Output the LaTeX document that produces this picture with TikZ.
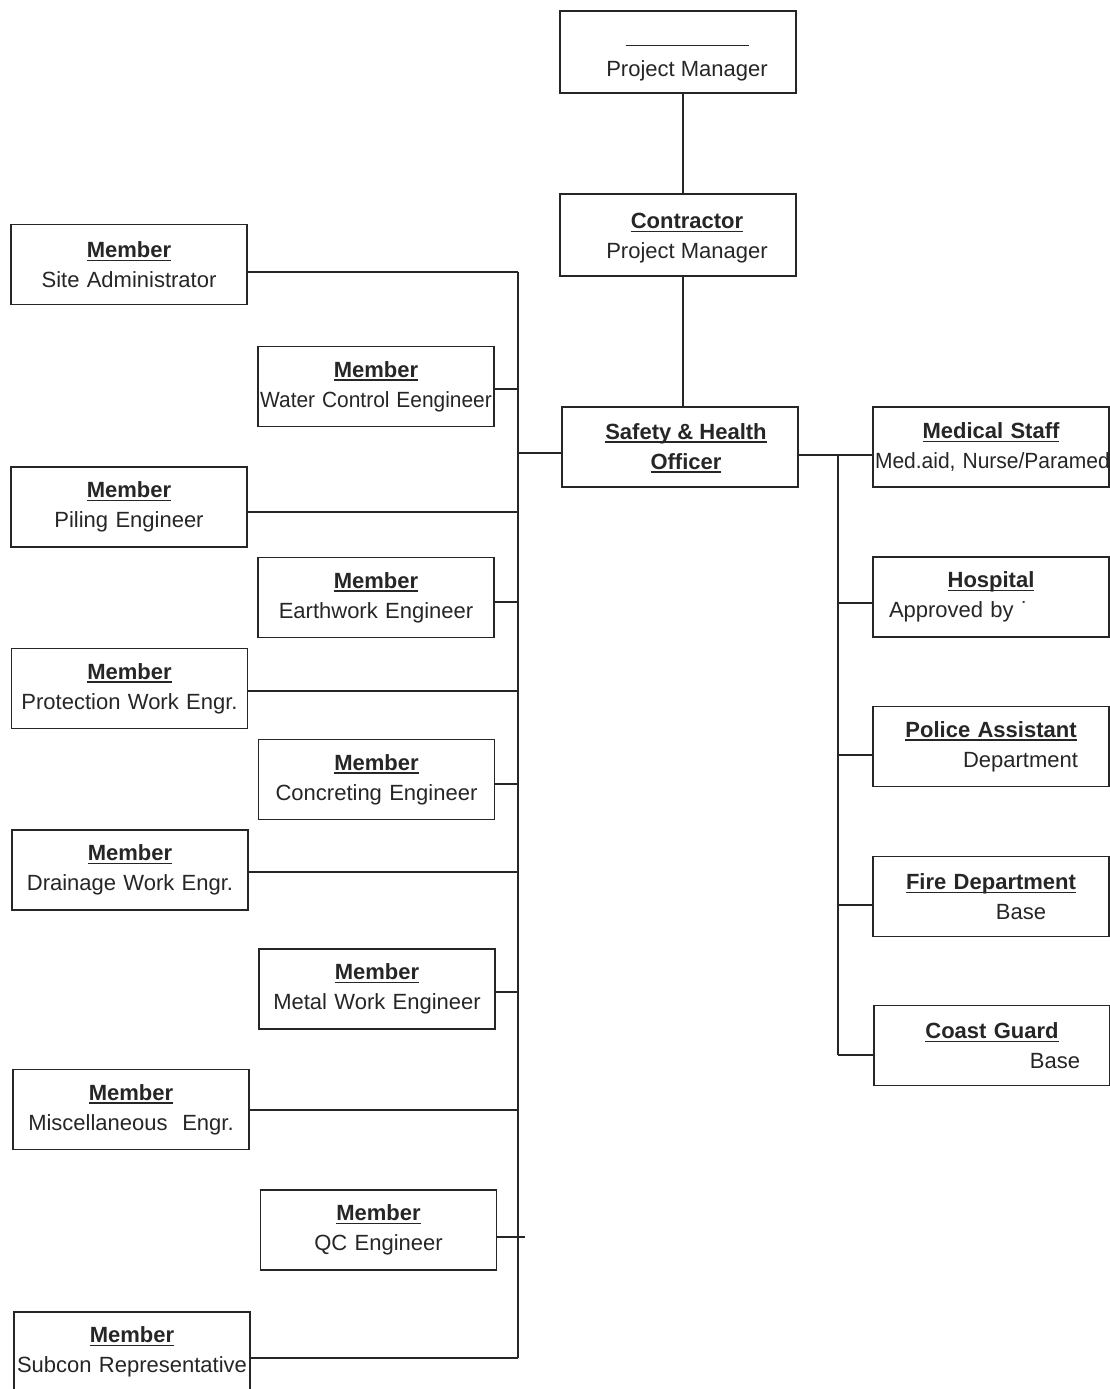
\documentclass[tikz,border=0pt]{standalone}
\usepackage{fontspec}
\setmainfont{Liberation Sans}
\usepackage{graphicx}
\newcommand\ulx[1]{\leavevmode\setbox0=\hbox{#1}\rlap{\rule[-3.5pt]{\wd0}{1.3pt}}\box0}
\begin{document}
\begin{tikzpicture}[x=1pt,y=-1pt,
  box/.style={draw=black!85, line width=1.7pt, minimum height=80pt, text width=232pt,
    inner xsep=2pt, inner ysep=0pt, align=center,
    font=\fontsize{22}{30}\selectfont, text=black!85},
  txt/.style={align=center, inner sep=0pt, font=\fontsize{22}{30}\selectfont, text=black!85},
  conn/.style={draw=black!85, line width=1.4pt}]
\useasboundingbox (0,0) rectangle (1110,1389);
\fill[white] (0,0) rectangle (1110,1389);

% top chain
\node[box, line width=2.4pt, minimum height=82pt] (pm) at (678,52) {};
\node[txt] (pmt) at (687,63) {\rule{123pt}{1.2pt}\\Project Manager};
\node[box, minimum height=82pt] (cpm) at (678,235) {};
\node[txt] (cpmt) at (687,238) {\ulx{\textbf{Contractor}}\\Project Manager};
\node[box] (sho) at (680,447) {};
\node[txt] (shot) at (686,448) {\ulx{\textbf{Safety \& Health}}\\\ulx{\textbf{Officer}}};

% left column
\node[box] (sa) at (129,264.5) {\ulx{\textbf{Member}}\\Site Administrator};
\node[box] (pe) at (129,507) {\ulx{\textbf{Member}}\\Piling Engineer};
\node[box] (pw) at (129.5,688.5) {\ulx{\textbf{Member}}\\Protection Work Engr.};
\node[box] (dw) at (130,870) {\ulx{\textbf{Member}}\\Drainage Work Engr.};
\node[box] (me) at (131,1109.5) {\ulx{\textbf{Member}}\\Miscellaneous\ \ Engr.};
\node[box] (sr) at (132,1352) {\ulx{\textbf{Member}}\\Subcon Representative};

% middle column
\node[box] (wc) at (376,386.5) {\ulx{\textbf{Member}}\\\scalebox{0.95}[1]{Water Control Eengineer}};
\node[box] (ee) at (376,597.5) {\ulx{\textbf{Member}}\\Earthwork Engineer};
\node[box] (ce) at (376.5,779.5) {\ulx{\textbf{Member}}\\Concreting Engineer};
\node[box] (mw) at (377,989) {\ulx{\textbf{Member}}\\Metal Work Engineer};
\node[box] (qc) at (378.5,1230) {\ulx{\textbf{Member}}\\QC Engineer};

% right column
\node[box] (ms) at (991,447) {\ulx{\textbf{Medical Staff}}\\\scalebox{0.955}[1]{Med.aid, Nurse/Paramed}};
\node[box] (ho) at (991,597) {\ulx{\textbf{Hospital}}\\\makebox[232pt][l]{\hspace{14pt}Approved by ˙}};
\node[box] (pa) at (991,746.5) {\ulx{\textbf{Police Assistant}}\\\makebox[232pt][r]{Department\hspace{29pt}}};
\node[box] (fd) at (991,896.5) {\ulx{\textbf{Fire Department}}\\\makebox[232pt]{\hspace{60pt}Base}};
\node[box] (cg) at (992,1045.5) {\ulx{\textbf{Coast Guard}}\\\makebox[232pt][r]{Base\hspace{28pt}}};

% vertical chain
\draw[conn] ([xshift=5pt]pm.south) -- ([xshift=5pt]cpm.north);
\draw[conn] ([xshift=5pt]cpm.south) -- ([xshift=3pt]sho.north);

% left bus
\coordinate (lt) at (518,272);
\coordinate (lb) at (518,1358);
\draw[conn] (lt) -- (lb);
\draw[conn] ([yshift=-6pt]sho.west) coordinate (a) -- (a -| lt);
\draw[conn] ([yshift=-7.5pt]sa.east) coordinate (a) -- (a -| lt);
\draw[conn] ([yshift=-5pt]pe.east) coordinate (a) -- (a -| lt);
\draw[conn] ([yshift=-2.5pt]pw.east) coordinate (a) -- (a -| lt);
\draw[conn] ([yshift=-2pt]dw.east) coordinate (a) -- (a -| lt);
\draw[conn] ([yshift=-0.5pt]me.east) coordinate (a) -- (a -| lt);
\draw[conn] ([yshift=-6pt]sr.east) coordinate (a) -- (a -| lt);
\draw[conn] ([yshift=-2.5pt]wc.east) coordinate (a) -- (a -| lt);
\draw[conn] ([yshift=-4.5pt]ee.east) coordinate (a) -- (a -| lt);
\draw[conn] ([yshift=-4.5pt]ce.east) coordinate (a) -- (a -| lt);
\draw[conn] ([yshift=-3pt]mw.east) coordinate (a) -- (a -| lt);
\draw[conn] ([yshift=-7pt]qc.east) coordinate (a) -- ([xshift=7pt]a -| lt);

% right bus
\coordinate (rt) at (838,455);
\coordinate (rb) at (838,1055);
\draw[conn] ([yshift=-8pt]sho.east) -- ([yshift=-8pt]ms.west);
\draw[conn] (rt) -- (rb);
\draw[conn] ([yshift=-6pt]ho.west) coordinate (a) -- (a -| rt);
\draw[conn] ([yshift=-8.5pt]pa.west) coordinate (a) -- (a -| rt);
\draw[conn] ([yshift=-8.5pt]fd.west) coordinate (a) -- (a -| rt);
\draw[conn] ([yshift=-9.5pt]cg.west) coordinate (a) -- (a -| rt);
\end{tikzpicture}
\end{document}
